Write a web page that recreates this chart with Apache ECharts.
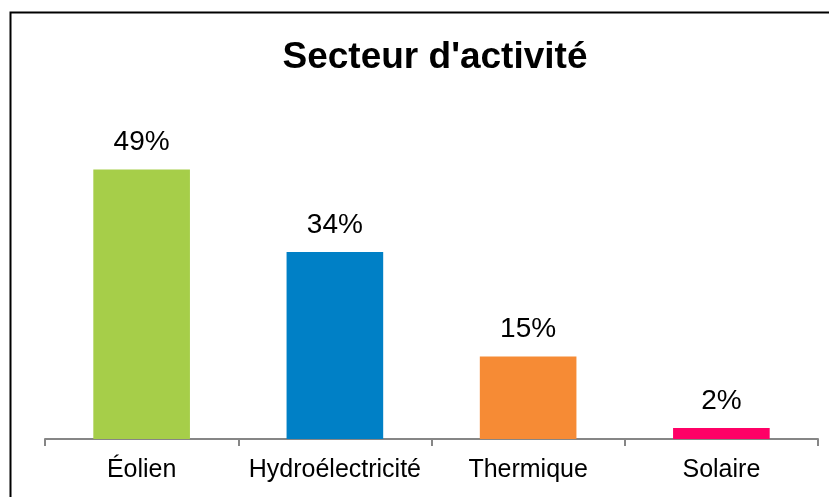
<!DOCTYPE html>
<html>
<head>
<meta charset="utf-8">
<script src="https://cdn.jsdelivr.net/npm/echarts@6/dist/echarts.min.js"></script>
<style>
  html, body { margin: 0; padding: 0; background: #fff; }
  #main { width: 829px; height: 497px; }
</style>
</head>
<body>
<div id="main"></div>
<script>
// données
var categories = ['Éolien', 'Hydroélectricité', 'Thermique', 'Solaire'];
var values = [49, 34, 15, 2];
var colors = ['#A6CE49', '#0080C6', '#F68B35', '#FF0066'];

var myChart = echarts.init(document.getElementById('main'));

var barData = [];
for (var i = 0; i < values.length; i++) {
    barData.push({ value: values[i], itemStyle: { color: colors[i] } });
}

var option = {
    animation: false,
    textStyle: { fontFamily: 'Liberation Sans' },
    // cadre
    graphic: [{
        type: 'rect',
        shape: { x: 10.5, y: 12.5, width: 900, height: 600 },
        style: { fill: 'none', stroke: '#000', lineWidth: 2 },
        silent: true
    }],
    title: {
        text: "Secteur d'activité",
        left: 430,
        top: 34,
        textAlign: 'center',
        textStyle: { fontSize: 37, fontWeight: 'bold', color: '#000', fontFamily: 'Liberation Sans' }
    },
    grid: { left: 45, right: 11, top: 109, bottom: 58 },
    xAxis: {
        type: 'category',
        data: categories,
        axisLine: { lineStyle: { color: '#868686', width: 2 } },
        axisTick: { show: true, interval: 0, alignWithLabel: false, length: 7, lineStyle: { color: '#868686', width: 2 } },
        axisLabel: { interval: 0, color: '#000', fontSize: 25, margin: 19, fontFamily: 'Liberation Sans' }
    },
    yAxis: {
        type: 'value',
        min: 0,
        max: 60,
        show: false
    },
    series: [{
        type: 'bar',
        data: barData,
        barWidth: '50%',
        label: {
            show: true,
            position: 'top',
            distance: 13,
            formatter: '{c}%',
            color: '#000',
            fontSize: 28,
            fontFamily: 'Liberation Sans'
        }
    }]
};
myChart.setOption(option);
</script>
</body>
</html>
